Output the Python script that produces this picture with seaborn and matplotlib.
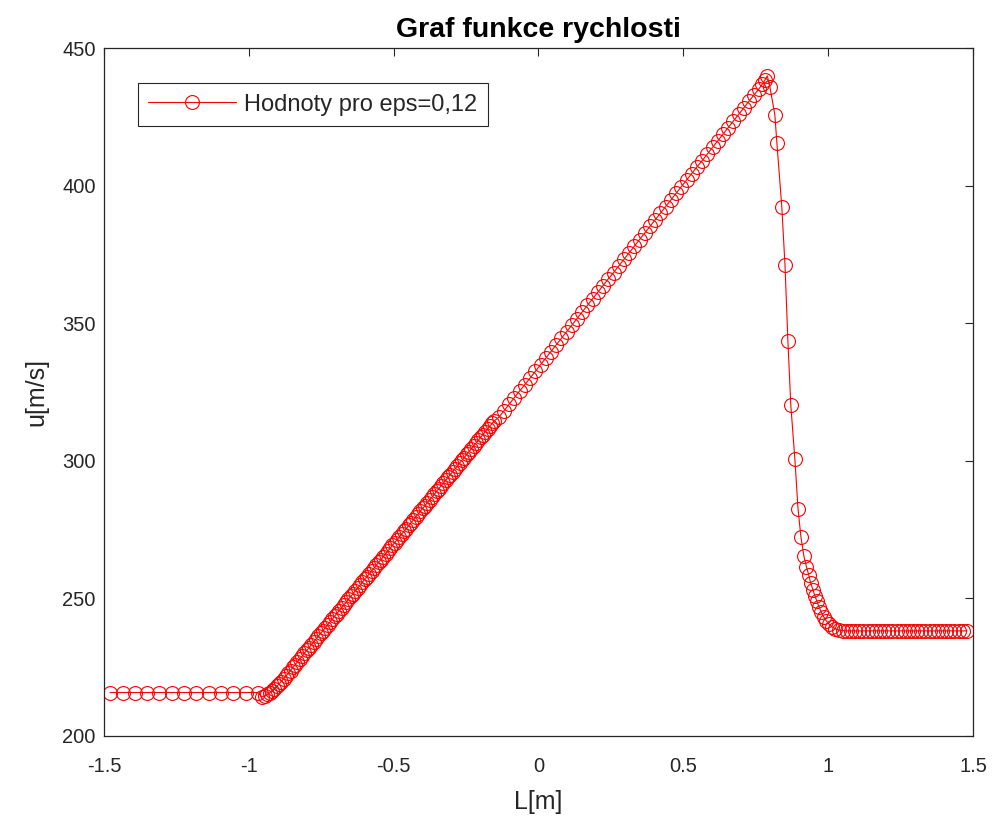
import numpy as np
import pandas as pd
import matplotlib
matplotlib.use("Agg")
import matplotlib.pyplot as plt
import seaborn as sns

# left constant state
x_left = [-1.479, -1.436, -1.394, -1.351, -1.309, -1.266, -1.224, -1.181,
          -1.139, -1.096, -1.054, -1.011, -0.969, -0.955]
u_left = [215.8, 215.8, 215.8, 215.8, 215.8, 215.8, 215.8, 215.8,
          215.8, 215.8, 215.8, 215.8, 215.8, 214.2]

# dense part of the rise
x_rise = [-0.944, -0.936, -0.928, -0.920, -0.912, -0.904, -0.896, -0.888, -0.880, -0.872,
          -0.864, -0.856, -0.848, -0.840, -0.832, -0.824, -0.816, -0.808, -0.800, -0.792,
          -0.784, -0.776, -0.768, -0.760, -0.752, -0.744, -0.736, -0.728, -0.720, -0.712,
          -0.704, -0.696, -0.688, -0.680, -0.672, -0.664, -0.656, -0.648, -0.640, -0.632,
          -0.624, -0.616, -0.608, -0.600, -0.592, -0.584, -0.576, -0.568, -0.560, -0.552,
          -0.544, -0.536, -0.528, -0.520, -0.512, -0.504, -0.496, -0.488, -0.480, -0.472,
          -0.464, -0.456, -0.448, -0.440, -0.432, -0.424, -0.416, -0.408, -0.400, -0.392,
          -0.384, -0.376, -0.368, -0.360, -0.352, -0.344, -0.336, -0.328, -0.320, -0.312,
          -0.304, -0.296, -0.288, -0.280, -0.272, -0.264, -0.256, -0.248, -0.240, -0.232,
          -0.224, -0.216, -0.208, -0.200, -0.192, -0.184, -0.176, -0.168, -0.160, -0.152]
u_rise = [214.6, 215.1, 215.7, 216.4, 217.2, 218.0, 218.9, 219.8, 220.8, 221.8,
          222.8, 223.8, 224.9, 225.9, 227.0, 228.0, 229.0, 230.1, 231.1, 232.1,
          233.2, 234.2, 235.2, 236.3, 237.3, 238.3, 239.3, 240.4, 241.4, 242.4,
          243.5, 244.5, 245.5, 246.6, 247.6, 248.6, 249.7, 250.7, 251.7, 252.8,
          253.8, 254.8, 255.9, 256.9, 257.9, 258.9, 260.0, 261.0, 262.0, 263.1,
          264.1, 265.1, 266.2, 267.2, 268.2, 269.3, 270.3, 271.3, 272.4, 273.4,
          274.4, 275.4, 276.5, 277.5, 278.5, 279.6, 280.6, 281.6, 282.7, 283.7,
          284.7, 285.8, 286.8, 287.8, 288.9, 289.9, 290.9, 292.0, 293.0, 294.0,
          295.0, 296.1, 297.1, 298.1, 299.2, 300.2, 301.2, 302.3, 303.3, 304.3,
          305.4, 306.4, 307.4, 308.5, 309.5, 310.5, 311.5, 312.6, 313.6, 314.6]

# coarser part up to the peak
x_top = [-0.137, -0.119, -0.101, -0.083, -0.065, -0.047, -0.029, -0.011, 0.007, 0.025,
         0.043, 0.061, 0.079, 0.097, 0.115, 0.133, 0.151, 0.169, 0.187, 0.205,
         0.223, 0.241, 0.259, 0.277, 0.295, 0.313, 0.331, 0.349, 0.367, 0.385,
         0.403, 0.421, 0.439, 0.457, 0.475, 0.493, 0.511, 0.529, 0.547, 0.565,
         0.583, 0.601, 0.619, 0.637, 0.655, 0.673, 0.691, 0.709, 0.727, 0.745,
         0.760, 0.772, 0.782, 0.790]
u_top = [315.8, 318.2, 320.6, 323.0, 325.4, 327.7, 330.1, 332.5, 334.9, 337.3,
         339.7, 342.1, 344.5, 346.9, 349.3, 351.7, 354.1, 356.5, 358.9, 361.3,
         363.7, 366.1, 368.4, 370.8, 373.2, 375.6, 378.0, 380.4, 382.8, 385.2,
         387.6, 390.0, 392.4, 394.8, 397.2, 399.6, 402.0, 404.4, 406.8, 409.1,
         411.5, 413.9, 416.3, 418.7, 421.1, 423.5, 425.9, 428.3, 430.7, 433.1,
         435.0, 436.8, 438.4, 439.9]

# shock / drop
x_drop = [0.799, 0.816, 0.823, 0.840, 0.851, 0.861, 0.871, 0.885, 0.896, 0.906,
          0.916, 0.925, 0.933, 0.940, 0.947, 0.954, 0.961, 0.968, 0.976, 0.984,
          0.993, 1.003, 1.013, 1.024, 1.036]
u_drop = [435.8, 425.7, 415.5, 392.2, 371.1, 343.5, 320.3, 300.7, 282.5, 272.3,
          265.5, 261.5, 258.5, 255.5, 253.2, 251.0, 249.0, 247.0, 245.1, 243.4,
          241.9, 240.6, 239.7, 239.0, 238.5]

# right constant state
x_right = [1.050, 1.064, 1.078, 1.093, 1.107, 1.121, 1.136, 1.150, 1.164, 1.178,
           1.193, 1.207, 1.221, 1.236, 1.250, 1.264, 1.279, 1.293, 1.307, 1.321,
           1.336, 1.350, 1.364, 1.379, 1.393, 1.407, 1.421, 1.436, 1.450, 1.464, 1.479]
u_right = [238.3, 238.2, 238.2, 238.2, 238.2, 238.2, 238.2, 238.2, 238.2, 238.2,
           238.2, 238.2, 238.2, 238.2, 238.2, 238.2, 238.2, 238.2, 238.2, 238.2,
           238.2, 238.2, 238.2, 238.2, 238.2, 238.2, 238.2, 238.2, 238.2, 238.2, 238.2]

df = pd.DataFrame({
    "L": x_left + x_rise + x_top + x_drop + x_right,
    "u": u_left + u_rise + u_top + u_drop + u_right,
})

sns.set_style("white")
plt.rcParams["font.family"] = ["Liberation Sans", "DejaVu Sans"]

fig = plt.figure(figsize=(9.96, 8.24), dpi=100)
ax = fig.add_axes([0.1044, 0.1068, 0.8725, 0.8349])

sns.lineplot(data=df, x="L", y="u", ax=ax, color="red", linewidth=0.8,
             marker="o", markersize=10, markerfacecolor="none",
             markeredgecolor="red", markeredgewidth=0.8,
             estimator=None, sort=False, label="Hodnoty pro eps=0,12")

dark = "#262626"
ax.set_xlim(-1.5, 1.5)
ax.set_ylim(200, 450)
ax.set_xticks([-1.5, -1, -0.5, 0, 0.5, 1, 1.5])
ax.set_xticklabels(["-1.5", "-1", "-0.5", "0", "0.5", "1", "1.5"])
ax.set_yticks([200, 250, 300, 350, 400, 450])
ax.tick_params(direction="in", length=6, width=0.8, colors=dark,
               labelsize=14.5, top=True, right=True)
ax.tick_params(axis="x", pad=15)
ax.tick_params(axis="y", pad=6)
for s in ax.spines.values():
    s.set_visible(True)
    s.set_color(dark)
    s.set_linewidth(0.9)

ax.set_xlabel("L[m]", fontsize=18, color=dark, labelpad=10)
ax.set_ylabel("u[m/s]", fontsize=18, color=dark, labelpad=10)
ax.set_title("Graf funkce rychlosti", fontsize=20.5, fontweight="bold",
             color="black", pad=8)

leg = ax.legend(loc="upper left", bbox_to_anchor=(0.039, 0.949),
                borderaxespad=0, fancybox=False, framealpha=1,
                edgecolor=dark, fontsize=17, handlelength=3.7,
                handletextpad=0.34, borderpad=0.45)
leg.get_frame().set_linewidth(0.8)
for t in leg.get_texts():
    t.set_color(dark)

fig.savefig("out.png", dpi=100)
